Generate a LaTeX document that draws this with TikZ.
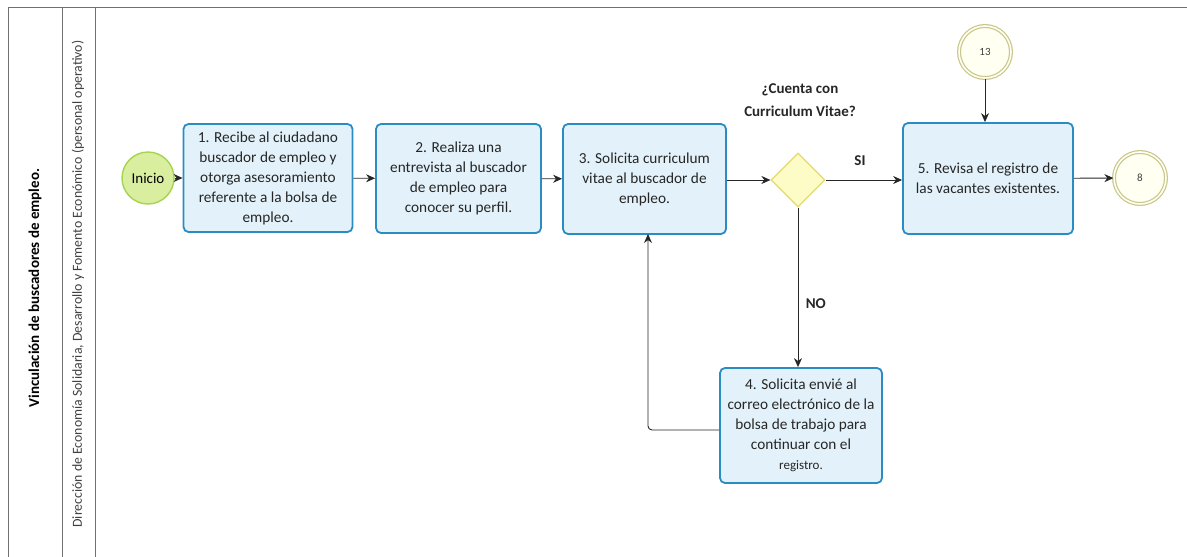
\documentclass[tikz,border=0pt]{standalone}
\usepackage{fontspec}
\setmainfont{Carlito}
\usetikzlibrary{shapes.geometric,arrows.meta}
\definecolor{boxfill}{HTML}{E3F2FA}
\definecolor{boxline}{HTML}{2B8CC4}
\definecolor{startfill}{HTML}{D9EE9E}
\definecolor{startline}{HTML}{A5D450}
\definecolor{gwfill}{HTML}{FDFBC6}
\definecolor{gwline}{HTML}{E2DC6A}
\definecolor{endfill}{HTML}{FFFFF2}
\definecolor{endline}{HTML}{C9C68C}
\definecolor{laneline}{HTML}{707070}
\tikzset{
  task/.style={draw=boxline, line width=1.8pt, fill=boxfill, rounded corners=5pt,
    align=center, font=\fontsize{15.3}{20}\selectfont, text=black!85, inner sep=2pt},
  startev/.style={circle, draw=startline, line width=1.4pt, fill=startfill,
    minimum size=52pt, inner sep=0pt, font=\fontsize{15}{17}\selectfont},
  gateway/.style={diamond, draw=gwline, line width=1.2pt, fill=gwfill,
    minimum width=54pt, minimum height=54pt, inner sep=0pt},
  linkev/.style={circle, draw=endline, double=endfill, double distance=1.6pt,
    line width=1.2pt, fill=endfill, minimum size=52pt, inner sep=0pt,
    font=\fontsize{11}{13}\selectfont, text=black!75},
  flow/.style={draw=black!85, line width=0.9pt, -{Stealth[length=9pt,width=8pt]}},
  lbl/.style={font=\bfseries\fontsize{15}{23}\selectfont, text=black!85, align=center},
  lane/.style={draw=laneline, line width=1pt}
}
\begin{document}
\begin{tikzpicture}[x=1pt,y=-1pt]
\useasboundingbox (0,0) rectangle (1187,557);
% lane frame
\draw[lane] (1187,7) -- (8,7) -- (8,557);
\draw[lane] (62,7) -- (62,557);
\draw[lane] (95,7) -- (95,557);
\node[rotate=90, font=\bfseries\fontsize{15}{18}\selectfont] (lanetitle) at (35,288) {Vinculación de buscadores de empleo.};
\node[rotate=90, font=\fontsize{13.8}{15}\selectfont, text=black!75] (lanerole) at (78,284) {Dirección de Economía Solidaria, Desarrollo y Fomento Económico (personal operativo)};
% nodes
\node[startev] (inicio) at (148,178) {Inicio};
\node[task, minimum width=169pt, minimum height=108pt] (t1) at (268,178)
  {1. Recibe al ciudadano\\buscador de empleo y\\otorga asesoramiento\\referente a la bolsa de\\empleo.};
\node[task, minimum width=165pt, minimum height=109pt] (t2) at (458.5,178.5)
  {2. Realiza una\\entrevista al buscador\\de empleo para\\conocer su perfil.};
\node[task, minimum width=163pt, minimum height=110pt] (t3) at (644.5,179)
  {3. Solicita curriculum\\vitae al buscador de\\empleo.};
\node[gateway] (gw) at (798,180) {};
\node[lbl] (q) at (800,100) {¿Cuenta con\\Curriculum Vitae?};
\node[task, minimum width=170pt, minimum height=111pt] (t5) at (988,178.5)
  {5. Revisa el registro de\\las vacantes existentes.};
\node[linkev] (l13) at (985,52) {13};
\node[linkev] (l8) at (1140,178) {8};
\node[task, minimum width=162pt, minimum height=115pt] (t4) at (801,425.5)
  {4. Solicita envié al\\correo electrónico de la\\bolsa de trabajo para\\continuar con el\\{\fontsize{13}{16}\selectfont registro.}};
% connectors
\draw[flow] (inicio) -- (t1);
\draw[flow] (t1) -- (t2);
\draw[flow] (t2) -- (t3);
\draw[flow] (t3.east |- gw) -- (gw);
\draw[flow] (gw) -- node[lbl, above=11pt, pos=0.45] (si) {SI} (t5.west |- gw);
\draw[flow] (gw.south) -- node[lbl, right=4pt, pos=0.6] (no) {NO} (gw.south |- t4.north);
\draw[flow, rounded corners=4pt] (t4.west |- 0,430) -- (648,430) -- (648,234);
\draw[flow] (l13) -- (l13 |- t5.north);
\draw[flow] (t5) -- (l8);
\end{tikzpicture}
\end{document}
